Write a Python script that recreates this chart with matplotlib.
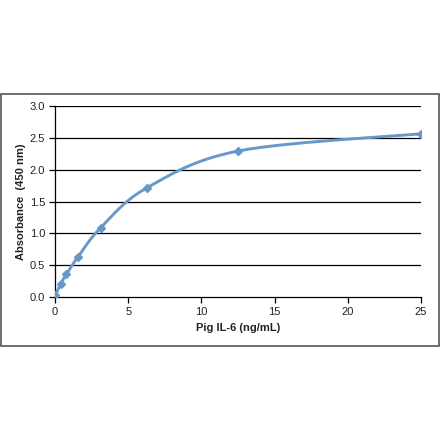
import matplotlib.pyplot as plt
import matplotlib.patches as patches
import numpy as np

plt.rcParams['font.family'] = ['Liberation Sans', 'DejaVu Sans']

# standard curve readings
conc = [0, 0.39, 0.78, 1.5625, 3.125, 6.25, 12.5, 25]
absorb = [0.03, 0.21, 0.36, 0.63, 1.09, 1.71, 2.29, 2.56]
xticks = [0, 5, 10, 15, 20, 25]
yticks = [0.0, 0.5, 1.0, 1.5, 2.0, 2.5, 3.0]
lineColor = '#6699c9'


def smoothLine(xs, ys, steps=30):
    # excel-like smoothed line (catmull-rom bezier through the points)
    pts = np.column_stack([xs, ys]).astype(float)
    outX, outY = [], []
    for i in range(len(pts) - 1):
        p0 = pts[max(i - 1, 0)]
        p1 = pts[i]
        p2 = pts[i + 1]
        p3 = pts[min(i + 2, len(pts) - 1)]
        c1 = p1 + (p2 - p0) / 6.0
        c2 = p2 - (p3 - p1) / 6.0
        t = np.linspace(0, 1, steps)[:, None]
        seg = ((1 - t) ** 3) * p1 + 3 * ((1 - t) ** 2) * t * c1 + 3 * (1 - t) * t ** 2 * c2 + t ** 3 * p2
        outX.extend(seg[:, 0])
        outY.extend(seg[:, 1])
    return outX, outY


fig = plt.figure(figsize=(4.4, 4.41), dpi=100)
ax = fig.add_axes([55 / 440, 1 - 297.3 / 441, (421 - 55) / 440, (297.3 - 105.7) / 441])

# frame around the chart
fig.patches.append(patches.Rectangle((1 / 440, 1 - 346 / 441), 438 / 440, 252 / 441,
                                     transform=fig.transFigure, fill=False,
                                     edgecolor='#555555', linewidth=1.2))

for y in yticks[1:]:
    ax.axhline(y, color='black', linewidth=0.9, zorder=1)

sx, sy = smoothLine(conc, absorb)
ax.plot(sx, sy, color=lineColor, linewidth=2.1, zorder=3)
ax.plot(conc, absorb, linestyle='none', marker='D', markersize=4.5, color=lineColor, zorder=4)

ax.set_xlim(0, 25)
ax.set_ylim(0, 3.0)
ax.set_xticks(xticks)
ax.set_yticks(yticks)
ax.set_xticklabels([str(v) for v in xticks])
ax.set_yticklabels(['%.1f' % v for v in yticks])
ax.tick_params(axis='both', labelsize=8, length=4, width=0.9, color='black',
               labelcolor='#222222', pad=3)

ax.spines['top'].set_visible(False)
ax.spines['right'].set_visible(False)
ax.spines['left'].set_linewidth(0.9)
ax.spines['bottom'].set_linewidth(0.9)
ax.set_clip_on(False)

ax.set_xlabel('Pig IL-6 (ng/mL)', fontsize=8, fontweight='bold', labelpad=4, color='#222222')
ax.set_ylabel('Absorbance  (450 nm)', fontsize=8, fontweight='bold', labelpad=2.5, color='#222222')

plt.savefig('out.png', dpi=100)
plt.close()
